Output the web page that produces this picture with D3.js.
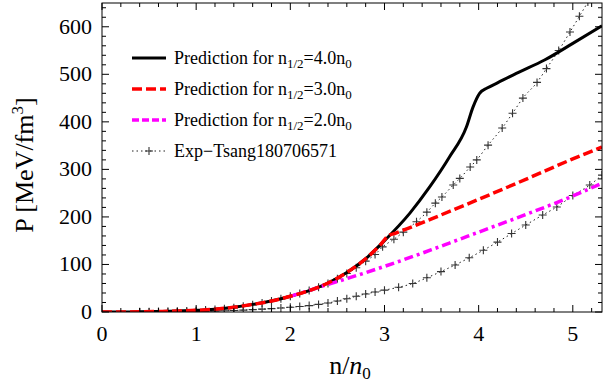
<!DOCTYPE html>
<html>
<head>
<meta charset="utf-8">
<script src="https://cdn.jsdelivr.net/npm/d3@7"></script>
<style>
  body { margin: 0; background: #fff; }
  svg text { font-family: "Liberation Serif", "Times New Roman", Times, serif; }
</style>
</head>
<body>
<div id="chart"></div>
<script>
// common low-density part shared by all predictions
const commonX = [0, 0.2, 0.4, 0.6, 0.8, 1.0, 1.2, 1.4, 1.6, 1.8, 2.0, 2.2];
const commonP = [0, 0.1, 0.4, 1.0, 2.0, 3.5, 6, 10, 16, 23, 33, 45];

// n1/2 = 4.0 n0 (black)
const blackX = [2.4, 2.6, 2.8, 3.0, 3.27, 3.48, 3.69, 3.87, 3.94, 4.01, 4.09, 4.2, 4.4, 4.7, 5.0, 5.31];
const blackP = [61, 83, 112, 150, 208, 263, 326, 389, 431, 460, 471, 482, 502, 530, 565, 602];

// n1/2 = 3.0 n0 (red)
const redX = [2.4, 2.6, 2.8, 2.95, 3.04, 3.12, 3.25, 3.5, 4.0, 4.5, 5.0, 5.31];
const redP = [61, 83, 112, 140, 160, 166, 176, 196, 237, 279, 322, 347];

// n1/2 = 2.0 n0 (magenta)
const magX = [2.0, 2.21, 2.3, 2.5, 3.0, 3.5, 3.69, 4.0, 4.5, 5.0, 5.31];
const magP = [33, 46, 52, 64, 96, 131, 145, 168, 205, 244, 271];

// Exp-Tsang band, lower and upper bounds
const lowX = [0, 0.2, 0.4, 0.5, 0.6, 0.7, 0.8, 0.9, 1.0, 1.1, 1.2, 1.3, 1.4, 1.5, 1.6, 1.7, 1.8, 1.9, 2.0,
  2.1, 2.2, 2.3, 2.4, 2.5, 2.6, 2.7, 2.8, 2.9, 3.0, 3.15, 3.3, 3.45, 3.6, 3.75, 3.9, 4.05, 4.2, 4.35,
  4.5, 4.68, 4.83, 5.0, 5.18, 5.31];
const lowP = [0, 0, 0, 0.1, 0.2, 0.3, 0.5, 0.7, 1.0, 1.4, 1.9, 2.5, 3.2, 4.0, 5.0, 6.0, 7.2, 8.5, 10,
  11.5, 13.5, 16, 19, 23, 28, 33, 38, 42, 46, 52, 60, 72, 85, 99, 114, 130, 147, 165,
  183, 204, 221, 245, 267, 288];
const upX = [0, 0.2, 0.4, 0.5, 0.6, 0.7, 0.8, 0.9, 1.0, 1.1, 1.2, 1.3, 1.4, 1.5, 1.6, 1.7, 1.8, 1.9, 2.0,
  2.1, 2.2, 2.3, 2.4, 2.5, 2.6, 2.7, 2.8, 2.9, 2.98, 3.1, 3.2, 3.34, 3.45, 3.54, 3.61, 3.73, 3.8, 3.91,
  3.98, 4.1, 4.25, 4.36, 4.47, 4.62, 4.72, 4.85, 4.97, 5.07, 5.16];
const upP = [0, 0.1, 0.3, 0.5, 0.8, 1.1, 1.5, 2.2, 3, 4, 5.5, 7, 9, 12, 15, 19, 23, 28, 33,
  39, 45, 52, 60, 70, 81, 93, 107, 121, 137, 153, 168, 190, 210, 229, 242, 267, 281, 305,
  320, 351, 387, 418, 450, 483, 512, 550, 589, 622, 652];

const xTicks = [0, 1, 2, 3, 4, 5];
const yTicks = [0, 100, 200, 300, 400, 500, 600];

const W = 605, H = 387;
const margin = { top: 3, right: 3, bottom: 75, left: 102 };
const width = W - margin.left - margin.right;
const height = H - margin.top - margin.bottom;

const svg = d3.select('#chart').append('svg')
  .attr('width', W).attr('height', H);

const g = svg.append('g')
  .attr('transform', `translate(${margin.left},${margin.top})`);

const x = d3.scaleLinear().domain([0, 5.31]).range([0, width]);
const y = d3.scaleLinear().domain([0, 650]).range([height, 0]);

g.append('clipPath').attr('id', 'clip')
  .append('rect').attr('width', width).attr('height', height);

const plot = g.append('g').attr('clip-path', 'url(#clip)');

const line = d3.line()
  .x(d => x(d[0])).y(d => y(d[1]))
  .curve(d3.curveMonotoneX);

const zip = (a, b) => a.map((v, i) => [v, b[i]]);
const withCommon = (xs, ps) => zip(commonX, commonP).filter(d => d[0] < xs[0]).concat(zip(xs, ps));

// Exp band: dotted lines with + markers
[zip(lowX, lowP), zip(upX, upP)].forEach(pts => {
  plot.append('path')
    .attr('d', line(pts))
    .attr('fill', 'none')
    .attr('stroke', '#222')
    .attr('stroke-width', 1)
    .attr('stroke-dasharray', '1.5,3');
  plot.append('g').selectAll('path')
    .data(pts.filter(d => d[0] >= 0.4))
    .enter().append('path')
    .attr('d', d => {
      const cx = x(d[0]), cy = y(d[1]), s = 4;
      return `M${cx - s},${cy}H${cx + s}M${cx},${cy - s}V${cy + s}`;
    })
    .attr('stroke', '#333')
    .attr('stroke-width', 1.1);
});

plot.append('path')
  .attr('d', line(withCommon(blackX, blackP)))
  .attr('fill', 'none').attr('stroke', '#000').attr('stroke-width', 3);

plot.append('path')
  .attr('d', line(zip(magX, magP)))
  .attr('fill', 'none').attr('stroke', '#ff00ff').attr('stroke-width', 3.5)
  .attr('stroke-dasharray', '9,4,3,4');

plot.append('path')
  .attr('d', line(withCommon(redX, redP)))
  .attr('fill', 'none').attr('stroke', '#ff0000').attr('stroke-width', 3.5)
  .attr('stroke-dasharray', '10,4');

// frame
g.append('rect')
  .attr('width', width).attr('height', height)
  .attr('fill', 'none').attr('stroke', '#000').attr('stroke-width', 1);

// inward ticks on all four sides
const xMinor = d3.range(0, 5.31, 0.2);
const yMinor = d3.range(0, 651, 20);
const ticks = g.append('g').attr('stroke', '#000').attr('stroke-width', 1);
xMinor.forEach(v => {
  const major = Math.abs(v - Math.round(v)) < 1e-6;
  const len = major ? 7 : 4;
  ticks.append('line').attr('x1', x(v)).attr('x2', x(v)).attr('y1', height).attr('y2', height - len);
  ticks.append('line').attr('x1', x(v)).attr('x2', x(v)).attr('y1', 0).attr('y2', len);
});
yMinor.forEach(v => {
  const major = v % 100 === 0;
  const len = major ? 7 : 4;
  ticks.append('line').attr('y1', y(v)).attr('y2', y(v)).attr('x1', 0).attr('x2', len);
  ticks.append('line').attr('y1', y(v)).attr('y2', y(v)).attr('x1', width).attr('x2', width - len);
});

// tick labels
g.append('g').selectAll('text').data(xTicks).enter().append('text')
  .attr('x', d => x(d)).attr('y', height + 29)
  .attr('text-anchor', 'middle')
  .attr('font-size', 22)
  .text(d => d);

g.append('g').selectAll('text').data(yTicks).enter().append('text')
  .attr('x', -10).attr('y', d => y(d) + 7)
  .attr('text-anchor', 'end')
  .attr('font-size', 22)
  .text(d => d);

// axis titles
const xt = svg.append('text')
  .attr('x', 350).attr('y', 374)
  .attr('text-anchor', 'middle')
  .attr('font-size', 26);
xt.append('tspan').text('n/');
xt.append('tspan').attr('font-style', 'italic').text('n');
xt.append('tspan').attr('font-size', 17).attr('dy', 5).text('0');

const yt = svg.append('text')
  .attr('transform', 'translate(33,165) rotate(-90)')
  .attr('text-anchor', 'middle')
  .attr('font-size', 26);
yt.append('tspan').text('P [MeV/fm');
yt.append('tspan').attr('font-size', 17).attr('dy', -10).text('3');
yt.append('tspan').attr('dy', 10).text(']');

// legend
const legendItems = [
  { n: '4.0', color: '#000', dash: null, width: 3 },
  { n: '3.0', color: '#ff0000', dash: '10,4', width: 3.5 },
  { n: '2.0', color: '#ff00ff', dash: '7,3', width: 3.5 }
];
const legendY = [58, 89, 120, 151];
const lg = svg.append('g');
legendItems.forEach((it, i) => {
  const yy = legendY[i];
  lg.append('line').attr('x1', 132).attr('x2', 166).attr('y1', yy).attr('y2', yy)
    .attr('stroke', it.color).attr('stroke-width', it.width)
    .attr('stroke-dasharray', it.dash);
  const t = lg.append('text').attr('x', 174).attr('y', yy + 6).attr('font-size', 18);
  t.append('tspan').text('Prediction for n');
  t.append('tspan').attr('font-size', 13).attr('dy', 4).text('1/2');
  t.append('tspan').attr('dy', -4).text('=' + it.n + 'n');
  t.append('tspan').attr('font-size', 13).attr('dy', 4).text('0');
});
{
  const yy = legendY[3];
  lg.append('line').attr('x1', 132).attr('x2', 166).attr('y1', yy).attr('y2', yy)
    .attr('stroke', '#222').attr('stroke-width', 1).attr('stroke-dasharray', '1.5,3');
  lg.append('path').attr('d', `M145,${yy}H153M149,${yy - 4}V${yy + 4}`)
    .attr('stroke', '#333').attr('stroke-width', 1.1);
  lg.append('text').attr('x', 174).attr('y', yy + 6).attr('font-size', 18)
    .text('Exp\u2212Tsang180706571');
}
</script>
</body>
</html>
